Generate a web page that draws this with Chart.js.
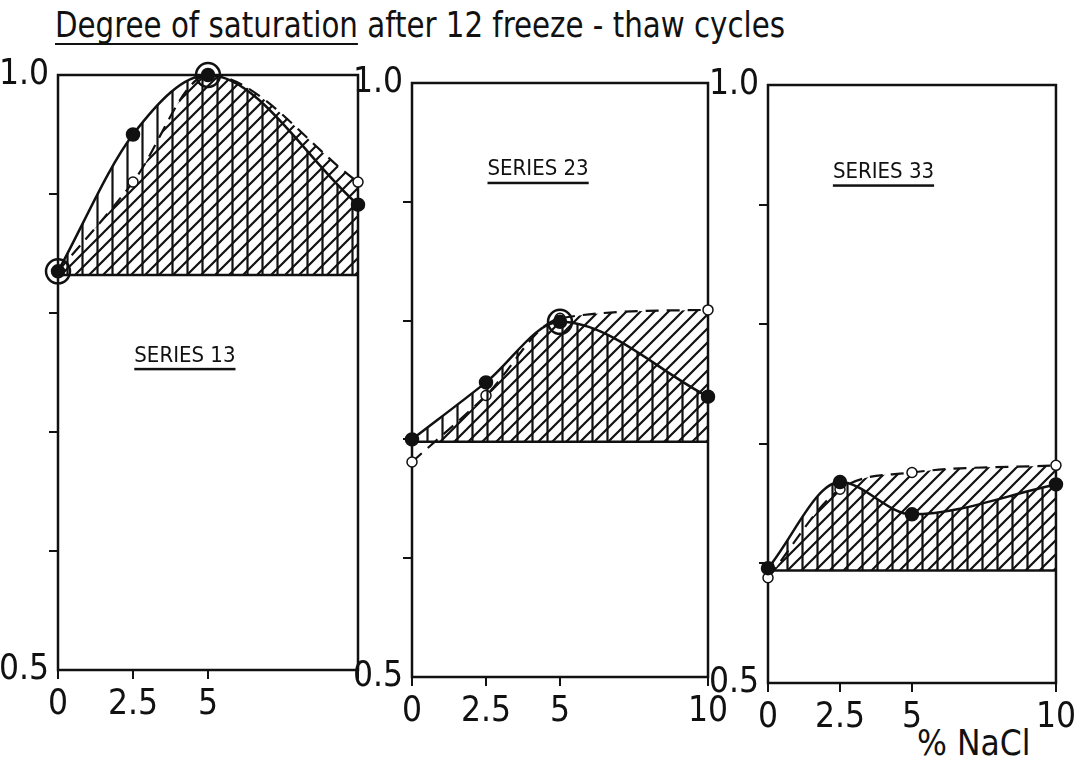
<!DOCTYPE html>
<html>
<head>
<meta charset="utf-8">
<script src="https://cdn.jsdelivr.net/npm/chart.js@4/dist/chart.umd.min.js"></script>
<style>
  html, body { margin: 0; padding: 0; background: #fff; }
  body { width: 1081px; height: 767px; position: relative; overflow: hidden;
         font-family: 'DejaVu Sans Condensed', 'DejaVu Sans', sans-serif; color: #111; }
  canvas { position: absolute; left: 0; top: 0; }
  #title { position: absolute; left: 55px; top: 4px; font-size: 36px; white-space: nowrap; transform-origin: 0 0; }
  #title u { text-decoration-thickness: 2px; text-underline-offset: 6px; text-decoration-skip-ink: none; }
  #unit { position: absolute; left: 917px; top: 723px; font-size: 35px; white-space: nowrap; }
</style>
</head>
<body>
<div id="title"><u>Degree of saturation</u> after 12 freeze - thaw cycles</div>
<div id="unit">% NaCl</div>
<canvas id="p13" width="1081" height="767"></canvas>
<canvas id="p23" width="1081" height="767"></canvas>
<canvas id="p33" width="1081" height="767"></canvas>
<script>
// x axis: % NaCl
const nacl = [0, 2.5, 5, 10];
const xLabels13 = ['0', '2.5', '5', ''];
const xLabels = ['0', '2.5', '5', '10'];

// degree of saturation, filled dots (solid line) and open dots (dashed line)
const s13Solid = [0.835, 0.950, 1.000, 0.891];
const s13Open  = [0.835, 0.910, 1.000, 0.910];
const s13Base  = 0.832;
const s13Rings = [0, 2];   // circled points (index into solid)

const s23Solid = [0.700, 0.748, 0.799, 0.736];
const s23Open  = [0.681, 0.737, 0.802, 0.809];
const s23Base  = 0.698;
const s23Rings = [2];

const s33Solid = [0.596, 0.668, 0.641, 0.666];
const s33Open  = [0.588, 0.662, 0.676, 0.682];
const s33Base  = 0.594;
const s33Rings = [];

const ink = '#111';
const FONT = "'DejaVu Sans Condensed', 'DejaVu Sans', sans-serif";

function hatch(kind) {
  const s = kind === 'v' ? 15 : 14;
  const c = document.createElement('canvas');
  c.width = s; c.height = s;
  const g = c.getContext('2d');
  g.strokeStyle = ink;
  g.lineWidth = 2.2;
  g.beginPath();
  if (kind === 'v') {
    g.moveTo(s / 2, 0); g.lineTo(s / 2, s);
  } else {
    g.moveTo(-2, s + 2); g.lineTo(s + 2, -2);
    g.moveTo(-2, 2); g.lineTo(2, -2);
    g.moveTo(s - 2, s + 2); g.lineTo(s + 2, s - 2);
  }
  g.stroke();
  return g.createPattern(c, 'repeat');
}
const vHatch = hatch('v');
const dHatch = hatch('d');

// box around the plot area + the underlined series name
const framePlugin = {
  id: 'frame',
  beforeDatasetsDraw(chart, args, opts) {
    const { ctx, chartArea: a, scales } = chart;
    ctx.save();
    ctx.strokeStyle = ink;
    ctx.lineWidth = 2.5;
    ctx.strokeRect(a.left, a.top, a.width, a.height);
    const x = scales.x.getPixelForValue(opts.x);
    const y = scales.y.getPixelForValue(opts.y);
    ctx.font = '22px ' + FONT;
    ctx.textAlign = 'center';
    ctx.textBaseline = 'middle';
    ctx.fillStyle = ink;
    ctx.fillText(opts.text, x, y);
    const w = ctx.measureText(opts.text).width;
    ctx.fillRect(x - w / 2, y + 12, w, 2.5);
    ctx.restore();
  }
};

function makePanel(id, solid, open, base, rings, xLab, pad, label) {
  const pts = arr => arr.map((y, i) => ({ x: nacl[i], y: y }));
  new Chart(document.getElementById(id), {
    type: 'line',
    data: {
      datasets: [
        { // circles round some points
          data: rings.map(i => ({ x: nacl[i], y: solid[i] })),
          showLine: false, pointRadius: 12, pointBorderWidth: 2.5,
          pointBorderColor: ink, pointBackgroundColor: 'rgba(0,0,0,0)', clip: false
        },
        {
          data: pts(solid),
          borderColor: ink, borderWidth: 2.5,
          cubicInterpolationMode: 'monotone',
          pointRadius: 6, pointBackgroundColor: ink, pointBorderColor: ink,
          fill: { target: { value: base }, above: vHatch, below: 'rgba(0,0,0,0)' },
          clip: false
        },
        {
          data: pts(open),
          borderColor: ink, borderWidth: 2.2, borderDash: [13, 8],
          cubicInterpolationMode: 'monotone',
          pointRadius: 5, pointBackgroundColor: '#fff', pointBorderColor: ink, pointBorderWidth: 1.5,
          fill: { target: { value: base }, above: dHatch, below: 'rgba(0,0,0,0)' },
          clip: false
        },
        { // horizontal base line
          data: [{ x: nacl[0], y: base }, { x: nacl[nacl.length - 1], y: base }],
          borderColor: ink, borderWidth: 2.5, pointRadius: 0, fill: false
        }
      ]
    },
    options: {
      responsive: false,
      animation: false,
      layout: { padding: pad },
      plugins: {
        legend: { display: false },
        tooltip: { enabled: false },
        frame: label
      },
      scales: {
        x: {
          type: 'linear', min: 0, max: 10,
          afterFit: s => { s.height = 50; },
          afterBuildTicks: s => { s.ticks = nacl.map(v => ({ value: v })); },
          ticks: {
            autoSkip: false, maxRotation: 0, padding: 5, color: ink,
            font: { family: FONT, size: 35 },
            callback: (v, i) => xLab[i]
          },
          grid: { drawOnChartArea: false, tickLength: 9, lineWidth: 2, color: ink },
          border: { display: false }
        },
        y: {
          min: 0.5, max: 1.0,
          afterFit: s => { s.width = 58; },
          ticks: {
            stepSize: 0.1, padding: 0, color: ink,
            font: { family: FONT, size: 35 },
            callback: v => Math.abs(v - 1) < 1e-6 ? '1.0' : (Math.abs(v - 0.5) < 1e-6 ? '0.5' : '')
          },
          grid: {
            drawOnChartArea: false, tickLength: 9, lineWidth: 2,
            color: c => (c.tick && (c.tick.value > 0.99 || c.tick.value < 0.51)) ? 'rgba(0,0,0,0)' : ink
          },
          border: { display: false }
        }
      }
    },
    plugins: [framePlugin]
  });
}

makePanel('p13', s13Solid, s13Open, s13Base, s13Rings, xLabels13,
  { left: 0, right: 723, top: 75, bottom: 47 }, { text: 'SERIES 13', x: 4.23, y: 0.764 });
makePanel('p23', s23Solid, s23Open, s23Base, s23Rings, xLabels,
  { left: 354, right: 373, top: 83, bottom: 40 }, { text: 'SERIES 23', x: 4.26, y: 0.927 });
makePanel('p33', s33Solid, s33Open, s33Base, s33Rings, xLabels,
  { left: 710, right: 19, top: 85, bottom: 34 }, { text: 'SERIES 33', x: 4.01, y: 0.927 });

// stretch the title to the width it has in the figure
const title = document.getElementById('title');
const tw = title.getBoundingClientRect().width;
title.style.transform = 'scaleX(' + (730 / tw) + ')';
</script>
</body>
</html>
